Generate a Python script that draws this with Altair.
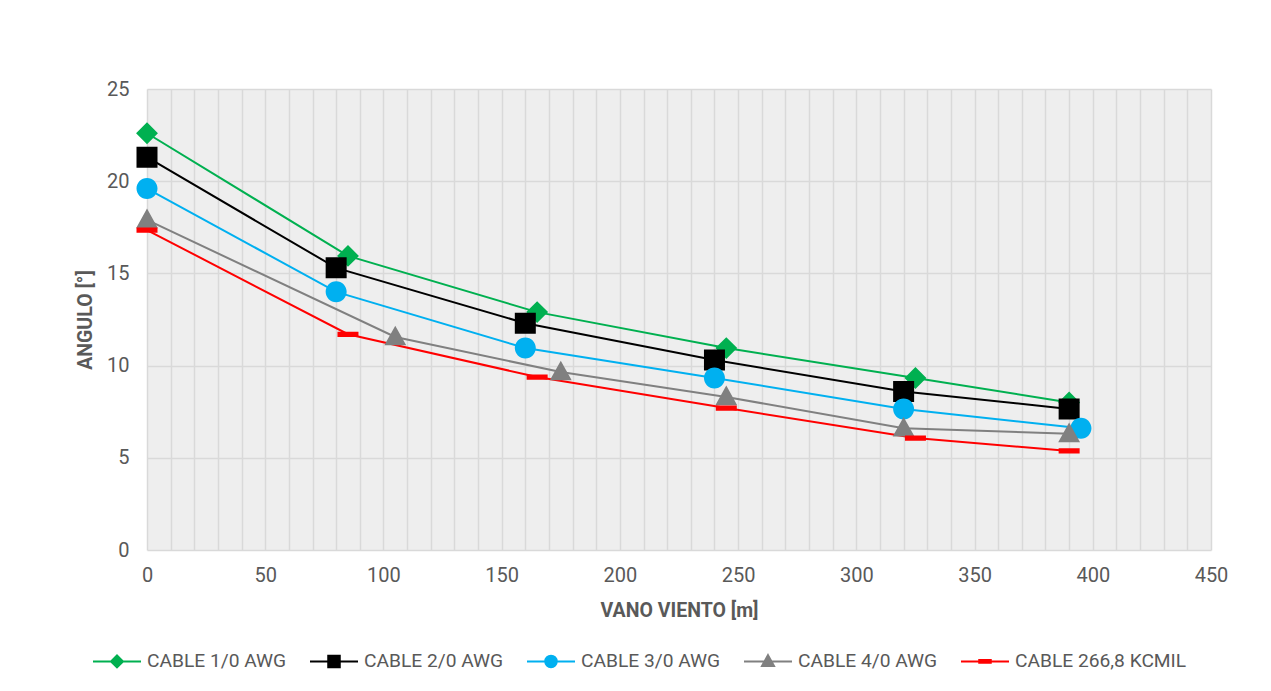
import altair as alt
import pandas as pd

# ---- data ----
series_names = ["CABLE 1/0 AWG", "CABLE 2/0 AWG", "CABLE 3/0 AWG", "CABLE 4/0 AWG", "CABLE 266,8 KCMIL"]

x_cable_1_0 = [0, 85, 165, 245, 325, 390]
y_cable_1_0 = [22.6, 15.95, 12.9, 10.95, 9.33, 8.0]

x_cable_2_0 = [0, 80, 160, 240, 320, 390]
y_cable_2_0 = [21.3, 15.3, 12.3, 10.3, 8.6, 7.65]

x_cable_3_0 = [0, 80, 160, 240, 320, 395]
y_cable_3_0 = [19.6, 14.0, 10.95, 9.33, 7.65, 6.6]

x_cable_4_0 = [0, 105, 175, 245, 320, 390]
y_cable_4_0 = [17.9, 11.55, 9.65, 8.3, 6.6, 6.3]

x_cable_266 = [0, 85, 165, 245, 325, 390]
y_cable_266 = [17.35, 11.7, 9.38, 7.7, 6.07, 5.37]

x_ticks = list(range(0, 451, 10))
y_ticks = [0, 5, 10, 15, 20, 25]

colors = ["#00B050", "#000000", "#00B0F0", "#808080", "#FF0000"]

# marker shapes with a horizontal line through them (the line only shows in the legend)
shapes = [
    "M-1,0H1M0,-0.25L0.25,0L0,0.25L-0.25,0Z",
    "M-1,0H1M-0.24,-0.24H0.24V0.24H-0.24Z",
    "M-1,0H1M0.24,0A0.24,0.24,0,1,1,-0.24,0A0.24,0.24,0,1,1,0.24,0Z",
    "M-1,0H1M0,-0.26L0.25,0.19L-0.25,0.19Z",
    "M-1,0H1M-0.24,-0.06H0.24V0.06H-0.24Z",
]

xs = [x_cable_1_0, x_cable_2_0, x_cable_3_0, x_cable_4_0, x_cable_266]
ys = [y_cable_1_0, y_cable_2_0, y_cable_3_0, y_cable_4_0, y_cable_266]

rows = []
for i, name in enumerate(series_names):
    for xv, yv in zip(xs[i], ys[i]):
        rows.append({"serie": name, "orden": i, "vano": xv, "angulo": yv})
df = pd.DataFrame(rows)

FONT = "Roboto"
TXT = "#595959"

x_axis = alt.Axis(
    title="VANO VIENTO [m]",
    values=x_ticks,
    labelExpr="datum.value % 50 === 0 ? datum.label : ''",
    labelOverlap=False,
    labelFlush=False,
    ticks=False,
    domain=False,
    grid=True,
    gridColor="#d9d9d9",
    gridWidth=1.5,
    labelFont=FONT,
    labelFontSize=20,
    labelColor=TXT,
    labelPadding=15,
    titleFont=FONT,
    titleFontSize=19.5,
    titleFontWeight="bold",
    titleColor=TXT,
    titlePadding=16,
)
y_axis = alt.Axis(
    title="ANGULO [°]",
    values=y_ticks,
    ticks=False,
    domain=False,
    grid=True,
    gridColor="#d9d9d9",
    gridWidth=1.5,
    labelFont=FONT,
    labelFontSize=20,
    labelColor=TXT,
    labelPadding=18,
    titleFont=FONT,
    titleFontSize=19.5,
    titleFontWeight="bold",
    titleColor=TXT,
    titlePadding=11,
)

x_enc = alt.X("vano:Q", scale=alt.Scale(domain=[0, 450], nice=False), axis=x_axis)
y_enc = alt.Y("angulo:Q", scale=alt.Scale(domain=[0, 25], nice=False), axis=y_axis)

lines = alt.Chart(df).mark_line(strokeWidth=2).encode(
    x=x_enc,
    y=y_enc,
    color=alt.Color("orden:N", scale=alt.Scale(range=colors), legend=None),
    detail="serie:N",
)

legend = alt.Legend(
    title=None,
    orient="none",
    direction="horizontal",
    legendX=-55,
    legendY=547,
    padding=0,
    symbolSize=2304,
    symbolStrokeWidth=2,
    symbolOpacity=1,
    labelFont=FONT,
    labelFontSize=19.2,
    labelColor=TXT,
    labelOffset=5,
    labelLimit=400,
    columnPadding=19,
)

points = alt.Chart(df).mark_point(filled=True, opacity=1, size=7656).encode(
    x=x_enc,
    y=y_enc,
    fill=alt.Fill("serie:N", scale=alt.Scale(domain=series_names, range=colors), legend=legend),
    stroke=alt.Stroke("serie:N", scale=alt.Scale(domain=series_names, range=colors), legend=legend),
    shape=alt.Shape("serie:N", scale=alt.Scale(domain=series_names, range=shapes), legend=legend),
    strokeWidth=alt.value(0),
    order="orden:Q",
)

chart = (
    alt.layer(lines, points)
    .properties(
        width=1064,
        height=461,
        autosize="none",
        padding={"left": 139, "top": 81, "right": 40, "bottom": 126},
        background="white",
    )
    .configure_view(fill="#eeeeee", stroke=None)
)

chart.save("out.html", embed_options={"renderer": "svg", "actions": False})
